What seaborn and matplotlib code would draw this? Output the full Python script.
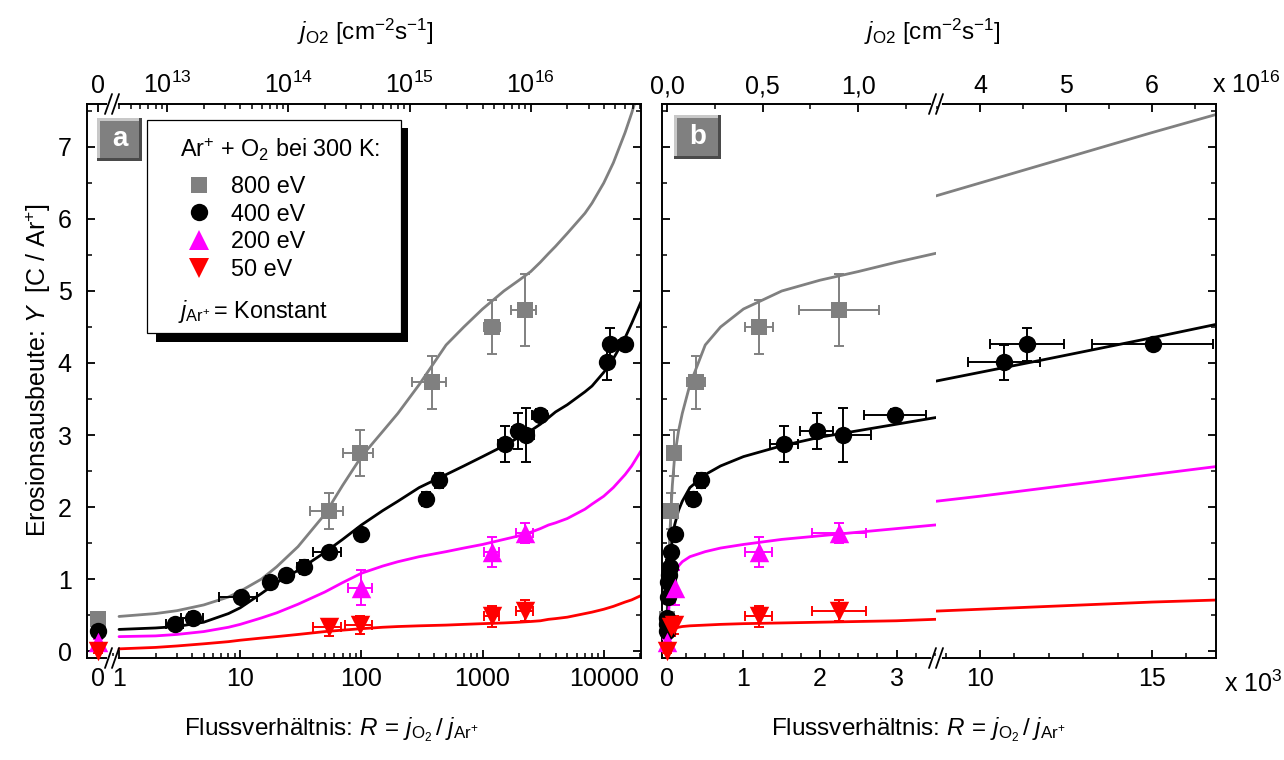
import numpy as np
import pandas as pd
import matplotlib
matplotlib.use("Agg")
import matplotlib.pyplot as plt
import seaborn as sns
from matplotlib.lines import Line2D
from matplotlib.patches import Rectangle
from matplotlib.ticker import MultipleLocator, FixedLocator, FixedFormatter, NullFormatter, LogLocator

# ---------------- data ----------------
energies = ["800 eV", "400 eV", "200 eV", "50 eV"]
colors = ["#808080", "#000000", "#ff00ff", "#ff0000"]
markers = ["s", "o", "^", "v"]
msizes = [12, 12.5, 14, 14]

R_800 = [0, 54, 98, 380, 1200, 2250]
Y_800 = [0.45, 1.95, 2.75, 3.73, 4.50, 4.74]
xerr_800 = [0, 16, 27, 120, 180, 520]
yerr_800 = [0.06, 0.25, 0.32, 0.37, 0.37, 0.50]

R_400 = [0, 2.9, 4.1, 10.2, 17.5, 23.7, 33.7, 54, 100, 340, 440, 1530, 1960, 2300, 2980, 10700, 11360, 15020]
Y_400 = [0.28, 0.38, 0.46, 0.75, 0.96, 1.05, 1.17, 1.38, 1.63, 2.11, 2.37, 2.88, 3.06, 3.00, 3.28, 4.01, 4.26, 4.26]
xerr_400 = [0, 0.45, 0.85, 3.5, 1.5, 2.0, 4.5, 14, 6, 20, 30, 180, 215, 360, 400, 1050, 1070, 1750]
yerr_400 = [0.05, 0.05, 0.08, 0.07, 0.08, 0.08, 0.10, 0.06, 0.07, 0.10, 0.10, 0.25, 0.25, 0.38, 0.08, 0.24, 0.23, 0.06]

R_200 = [0, 100, 1200, 2250]
Y_200 = [0.12, 0.88, 1.38, 1.64]
xerr_200 = [0, 23, 175, 355]
yerr_200 = [0.05, 0.24, 0.21, 0.14]

R_50 = [0, 54, 98, 1200, 2250]
Y_50 = [0.0, 0.33, 0.36, 0.48, 0.56]
xerr_50 = [0, 14, 25, 175, 355]
yerr_50 = [0.03, 0.12, 0.12, 0.14, 0.15]

# model curves
R_model = [1, 2, 3, 5, 8, 10, 15, 20, 30, 50, 70, 100, 150, 200, 300, 500, 700, 1000, 1500,
           2000, 2500, 3000, 3500, 4000, 5000, 7000, 8000, 10000, 12000, 15000, 17000, 20300]
Ym_800 = [0.48, 0.52, 0.56, 0.64, 0.75, 0.83, 1.00, 1.17, 1.45, 1.90, 2.30, 2.70, 3.05, 3.30, 3.70,
          4.25, 4.50, 4.75, 5.00, 5.15, 5.27, 5.40, 5.52, 5.62, 5.80, 6.08, 6.22, 6.50, 6.78, 7.20, 7.47, 7.90]
Ym_400 = [0.30, 0.32, 0.34, 0.40, 0.52, 0.60, 0.80, 0.95, 1.12, 1.37, 1.55, 1.75, 1.95, 2.08, 2.27,
          2.45, 2.57, 2.70, 2.85, 2.97, 3.06, 3.15, 3.24, 3.32, 3.42, 3.60, 3.68, 3.87, 4.06, 4.35, 4.55, 4.85]
Ym_200 = [0.20, 0.21, 0.23, 0.27, 0.33, 0.37, 0.46, 0.53, 0.65, 0.82, 0.95, 1.08, 1.18, 1.24, 1.31,
          1.38, 1.43, 1.48, 1.55, 1.60, 1.65, 1.70, 1.75, 1.78, 1.84, 1.97, 2.04, 2.15, 2.27, 2.45, 2.57, 2.78]
Ym_50 = [0.03, 0.05, 0.07, 0.10, 0.13, 0.15, 0.18, 0.20, 0.23, 0.27, 0.29, 0.31, 0.33, 0.34, 0.35,
         0.36, 0.37, 0.38, 0.39, 0.40, 0.41, 0.42, 0.44, 0.45, 0.47, 0.52, 0.54, 0.58, 0.62, 0.68, 0.71, 0.77]

j_Ar = 4e12  # constant Ar+ flux -> top axis j_O2 = R * j_Ar

bottom_ticks_a = [1, 10, 100, 1000, 10000]
bottom_labels_a = ["1", "10", "100", "1000", "10000"]
top_ticks_a = [1e13, 1e14, 1e15, 1e16]
top_labels_a = [r"$10^{13}$", r"$10^{14}$", r"$10^{15}$", r"$10^{16}$"]
bottom_ticks_b1 = [0, 1000, 2000, 3000]
bottom_labels_b1 = ["0", "1", "2", "3"]
bottom_ticks_b2 = [10000, 15000]
bottom_labels_b2 = ["10", "15"]
top_ticks_b1 = [0.0, 0.5, 1.0]
top_labels_b1 = ["0,0", "0,5", "1,0"]
top_ticks_b2 = [4, 5, 6]
top_labels_b2 = ["4", "5", "6"]

series = [
    (R_800, Y_800, xerr_800, yerr_800, Ym_800),
    (R_400, Y_400, xerr_400, yerr_400, Ym_400),
    (R_200, Y_200, xerr_200, yerr_200, Ym_200),
    (R_50, Y_50, xerr_50, yerr_50, Ym_50),
]

# ---------------- style ----------------
sns.set_theme(style="ticks")
plt.rcParams.update({
    "font.family": ["Liberation Sans", "DejaVu Sans"],
    "mathtext.fontset": "custom",
    "mathtext.rm": "Liberation Sans",
    "mathtext.it": "Liberation Sans:italic",
    "mathtext.bf": "Liberation Sans:bold",
    "xtick.direction": "in",
    "ytick.direction": "in",
    "axes.linewidth": 1.4,
    "axes.edgecolor": "black",
    "text.color": "black",
    "axes.labelcolor": "black",
    "xtick.color": "black",
    "ytick.color": "black",
})

W, H = 1284, 760
fig = plt.figure(figsize=(W / 100, H / 100), dpi=100)


def fx(x):
    return x / W


def fy(y):
    return 1 - y / H


Y_TOP, Y_BOT = 104, 658
YLIM = (-0.097, 7.597)
TICK_FS = 18


def add_ax(x0, x1):
    ax = fig.add_axes([fx(x0), fy(Y_BOT), (x1 - x0) / W, (Y_BOT - Y_TOP) / H])
    ax.set_ylim(*YLIM)
    ax.yaxis.set_major_locator(MultipleLocator(1))
    ax.yaxis.set_minor_locator(MultipleLocator(0.5))
    ax.tick_params(which="major", length=6, width=1.3, labelsize=TICK_FS, pad=6.5)
    ax.tick_params(which="minor", length=3.5, width=1.1)
    ax.tick_params(axis="y", pad=11)
    return ax


axA0 = add_ax(87, 112)
axA1 = add_ax(112, 641)
axB0 = add_ax(662, 936)
axB1 = add_ax(936, 1216)

axA1.set_xscale("log")
axA0.set_xlim(-1.0, 1.27)
axA1.set_xlim(0.875, 20300)
axB0.set_xlim(-65, 3516)
axB1.set_xlim(8721, 16860)

# spines / y ticks
axA0.spines["right"].set_visible(False)
axA1.spines["left"].set_visible(False)
axB0.spines["right"].set_visible(False)
axB1.spines["left"].set_visible(False)
for ax in (axA0, axB0):
    ax.yaxis.set_ticks_position("left")
for ax in (axA1, axB1):
    ax.yaxis.set_ticks_position("right")
    ax.tick_params(axis="y", labelright=False, labelleft=False)
axB0.tick_params(axis="y", labelleft=False)

# bottom ticks
axA0.xaxis.set_major_locator(FixedLocator([0]))
axA0.xaxis.set_major_formatter(FixedFormatter(["0"]))
axA0.xaxis.set_minor_locator(FixedLocator([]))
axA1.xaxis.set_major_locator(FixedLocator(bottom_ticks_a))
axA1.xaxis.set_major_formatter(FixedFormatter(bottom_labels_a))
axA1.xaxis.set_minor_locator(LogLocator(base=10, subs=np.arange(2, 10)))
axA1.xaxis.set_minor_formatter(NullFormatter())
axB0.xaxis.set_major_locator(FixedLocator(bottom_ticks_b1))
axB0.xaxis.set_major_formatter(FixedFormatter(bottom_labels_b1))
axB0.xaxis.set_minor_locator(MultipleLocator(250))
axB1.xaxis.set_major_locator(FixedLocator(bottom_ticks_b2))
axB1.xaxis.set_major_formatter(FixedFormatter(bottom_labels_b2))
axB1.xaxis.set_minor_locator(MultipleLocator(1000))


def top_axis(ax, scale, conv, ticks, labels, minor):
    tw = ax.twiny()
    if scale == "log":
        tw.set_xscale("log")
    lo, hi = ax.get_xlim()
    tw.set_xlim(lo * conv, hi * conv)
    for s in tw.spines.values():
        s.set_visible(False)
    tw.xaxis.set_major_locator(FixedLocator(ticks))
    tw.xaxis.set_major_formatter(FixedFormatter(labels))
    if minor is None:
        tw.xaxis.set_minor_locator(FixedLocator([]))
    else:
        tw.xaxis.set_minor_locator(minor)
        tw.xaxis.set_minor_formatter(NullFormatter())
    tw.tick_params(which="major", direction="in", length=6, width=1.3, labelsize=TICK_FS, pad=4,
                   colors="black")
    tw.tick_params(which="minor", direction="in", length=3.5, width=1.1, colors="black")
    return tw


top_axis(axA0, "linear", j_Ar, [0], ["0"], None)
top_axis(axA1, "log", j_Ar, top_ticks_a, top_labels_a, LogLocator(base=10, subs=np.arange(2, 10)))
top_axis(axB0, "linear", j_Ar / 1e16, top_ticks_b1, top_labels_b1, MultipleLocator(0.25))
top_axis(axB1, "linear", j_Ar / 1e16, top_ticks_b2, top_labels_b2, MultipleLocator(0.5))

# ---------------- data drawing ----------------
axes_ranges = [
    (axA0, 0, 0),
    (axA1, 1e-9, 1e9),
    (axB0, 0, 3516),
    (axB1, 8721, 1e9),
]

for (R, Y, xe, ye, Ym), c, m, ms in zip(series, colors, markers, msizes):
    df = pd.DataFrame({"R": R, "Y": Y, "xerr": xe, "yerr": ye})
    dm = pd.DataFrame({"R": R_model, "Y": Ym})
    for ax, lo, hi in axes_ranges:
        if ax is not axA0:
            sns.lineplot(data=dm, x="R", y="Y", ax=ax, color=c, linewidth=2.0,
                         legend=False, zorder=2, estimator=None)
        sub = df[(df.R >= lo) & (df.R <= hi)]
        if len(sub) == 0:
            continue
        ax.errorbar(sub.R, sub.Y, xerr=sub.xerr, yerr=sub.yerr, fmt="none",
                    ecolor=c, elinewidth=1.4, capsize=3.3, capthick=1.4, zorder=3, clip_on=False)
        sns.scatterplot(data=sub, x="R", y="Y", ax=ax, marker=m, s=ms ** 2, color=c,
                        edgecolor=c, linewidth=0, legend=False, zorder=4, clip_on=False)
    for ax in (axA0, axA1, axB0, axB1):
        ax.set_xlabel("")
        ax.set_ylabel("")

# ---------------- labels ----------------
xlab = r"Flussverhältnis: $R\,=\,j_{\mathrm{O}_{2}}\,/\;j_{\mathrm{Ar}^{+}}$"
fig.text(fx(331), fy(730), xlab, ha="center", va="center", fontsize=17.5)
fig.text(fx(918), fy(730), xlab, ha="center", va="center", fontsize=17.5)
toplab = r"$j_{\mathrm{O2}}$ [cm$^{-2}$s$^{-1}$]"
fig.text(fx(365), fy(32), toplab, ha="center", va="center", fontsize=17.5)
fig.text(fx(932), fy(32), toplab, ha="center", va="center", fontsize=17.5)
fig.text(fx(38), fy(370), r"Erosionsausbeute: $Y$  [C / Ar$^{+}$]", rotation=90,
         ha="center", va="center", fontsize=18)
fig.text(fx(1212), fy(93), r"x 10$^{16}$", ha="left", va="baseline", fontsize=TICK_FS)
fig.text(fx(1224), fy(692), r"x 10$^{3}$", ha="left", va="baseline", fontsize=TICK_FS)


# ---------------- break marks ----------------
def brk(xc, yc):
    fig.add_artist(Line2D([fx(xc - 3.5), fx(xc + 3.5)], [fy(yc), fy(yc)],
                          transform=fig.transFigure, color="white", lw=3, zorder=6))
    for dx in (-3.5, 3.5):
        fig.add_artist(Line2D([fx(xc + dx - 3.5), fx(xc + dx + 3.5)], [fy(yc + 10), fy(yc - 10)],
                              transform=fig.transFigure, color="black", lw=1.3, zorder=7))


for xc in (112, 936):
    brk(xc, Y_TOP)
    brk(xc, Y_BOT)


# ---------------- panel labels ----------------
def panel_label(x0, y0, x1, y1, letter):
    fig.add_artist(Rectangle((fx(x0), fy(y1)), (x1 - x0) / W, (y1 - y0) / H,
                             transform=fig.transFigure, fc="#4a4a4a", ec="none", zorder=6))
    fig.add_artist(Rectangle((fx(x0), fy(y1 - 3)), (x1 - x0 - 3) / W, (y1 - y0 - 3) / H,
                             transform=fig.transFigure, fc="#c8c8c8", ec="none", zorder=6))
    fig.add_artist(Rectangle((fx(x0 + 3), fy(y1 - 3)), (x1 - x0 - 6) / W, (y1 - y0 - 6) / H,
                             transform=fig.transFigure, fc="#808080", ec="none", zorder=6))
    fig.text(fx((x0 + x1) / 2), fy((y0 + y1) / 2), letter, color="white", fontweight="bold",
             fontsize=20, ha="center", va="center", zorder=8)


panel_label(97, 118, 142, 161, "a")
panel_label(674, 115, 721, 159, "b")

# ---------------- legend ----------------
LEG_FS = 16.8
fig.add_artist(Rectangle((fx(156), fy(342)), (408 - 156) / W, (342 - 128) / H,
                         transform=fig.transFigure, fc="black", ec="none", zorder=6))
fig.add_artist(Rectangle((fx(147), fy(333)), (401 - 147) / W, (333 - 120) / H,
                         transform=fig.transFigure, fc="white", ec="black", lw=0.9, zorder=6.5))
fig.text(fx(180), fy(157), r"Ar$^{+}$ + O$_{2}$ bei 300 K:", ha="left", va="baseline",
         fontsize=LEG_FS, zorder=8)
handles = [Line2D([0], [0], marker=m, color=c, ls="none", markersize=ms, markeredgewidth=0)
           for c, m, ms in zip(colors, markers, msizes)]
leg = fig.legend(handles=handles, labels=energies, loc="upper left",
                 bbox_to_anchor=(fx(177), fy(175)), frameon=False,
                 fontsize=LEG_FS, handlelength=1.92, handletextpad=0.38,
                 labelspacing=0.2, borderpad=0, borderaxespad=0)
leg.set_zorder(7)
fig.text(fx(178), fy(318), r"$j_{\mathrm{Ar}^{+}}$$\,$= Konstant", ha="left", va="baseline",
         fontsize=LEG_FS, zorder=8)

fig.savefig("out.png", dpi=100)
